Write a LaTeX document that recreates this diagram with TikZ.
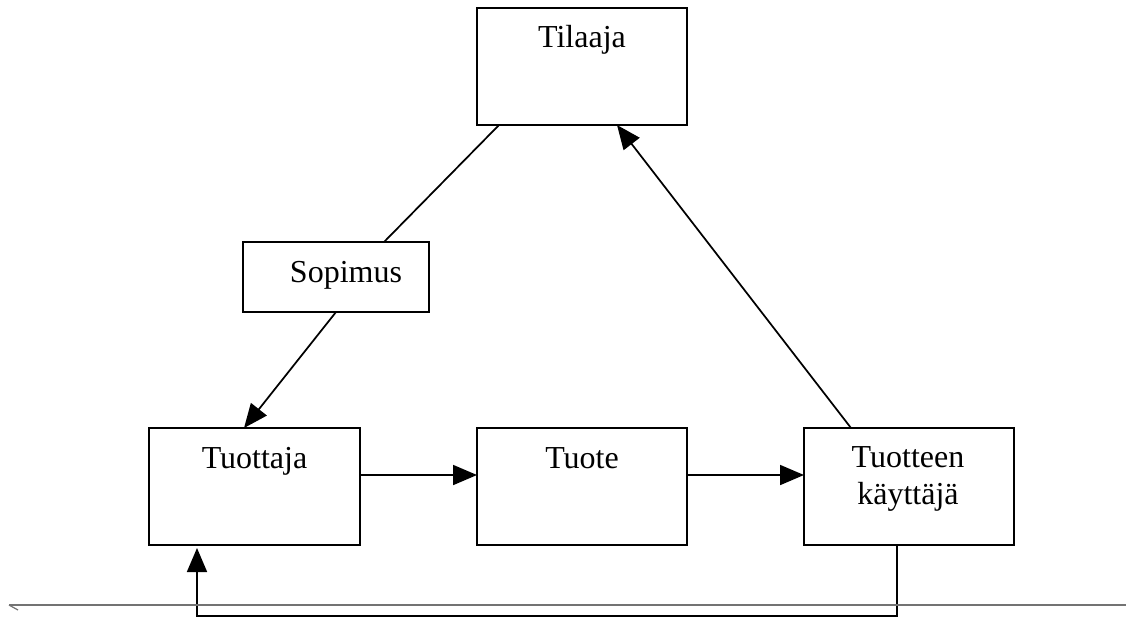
\documentclass[tikz,border=0pt]{standalone}
\usepackage{fontspec}
\setmainfont{Liberation Serif}
\usetikzlibrary{arrows.meta,calc}
\tikzset{
  box/.style={draw=black, line width=1.5pt, rectangle, inner sep=0pt, outer sep=0pt},
  lbl/.style={anchor=base, inner sep=0pt, font=\fontsize{24}{28}\selectfont},
  conn/.style={draw=black, line width=1.3pt},
  arr/.style={conn, -{Triangle[length=18pt,width=15pt]}},
  rule/.style={draw=black!55, line width=0.9pt}
}
\begin{document}
\begin{tikzpicture}[x=0.75pt,y=-0.75pt]
\useasboundingbox (0,0) rectangle (1126,619);
% boxes
\node[box, minimum width=157.5pt, minimum height=87.75pt] (tilaaja) at (582,66.5) {};
\node[box, minimum width=139.5pt, minimum height=52.5pt] (sopimus) at (336,277) {};
\node[box, minimum width=158.25pt, minimum height=87.75pt] (tuottaja) at (254.5,486.5) {};
\node[box, minimum width=157.5pt, minimum height=87.75pt] (tuote) at (582,486.5) {};
\node[box, minimum width=157.5pt, minimum height=87.75pt] (kayttaja) at (909,486.5) {};
% labels
\node[lbl] (tTilaaja) at (582,47) {Tilaaja};
\node[lbl] (tSopimus) at (346,282) {Sopimus};
\node[lbl] (tTuottaja) at (254.5,468) {Tuottaja};
\node[lbl] (tTuote) at (582,468) {Tuote};
\node[lbl] (tKay1) at (908,467) {Tuotteen};
\node[lbl] (tKay2) at (908,504) {käyttäjä};
% helper x / y positions
\coordinate (xa) at (499,0);
\coordinate (xb) at (384,0);
\coordinate (xc) at (336,0);
\coordinate (xd) at (244,0);
\coordinate (xe) at (851,0);
\coordinate (xf) at (617,0);
\coordinate (xg) at (897,0);
\coordinate (yh) at (0,475);
% connectors
\draw[conn] (xa |- tilaaja.south) -- (xb |- sopimus.north);
\draw[arr] (xc |- sopimus.south) -- (xd |- tuottaja.north);
\draw[arr] (tuottaja.east |- yh) -- (tuote.west |- yh);
\draw[arr] (tuote.east |- yh) -- (kayttaja.west |- yh);
\draw[arr] (xe |- kayttaja.north) -- (xf |- tilaaja.south);
\coordinate (f1) at (897,616);
\coordinate (f2) at (197,616);
\coordinate (fend) at (197,548);
\draw[arr] (xg |- kayttaja.south) -- (f1) -- (f2) -- (fend);
% horizontal rule
\draw[rule] (9,605) -- (1126,605);
\draw[rule] (9,605) -- (18,610);
\end{tikzpicture}
\end{document}
